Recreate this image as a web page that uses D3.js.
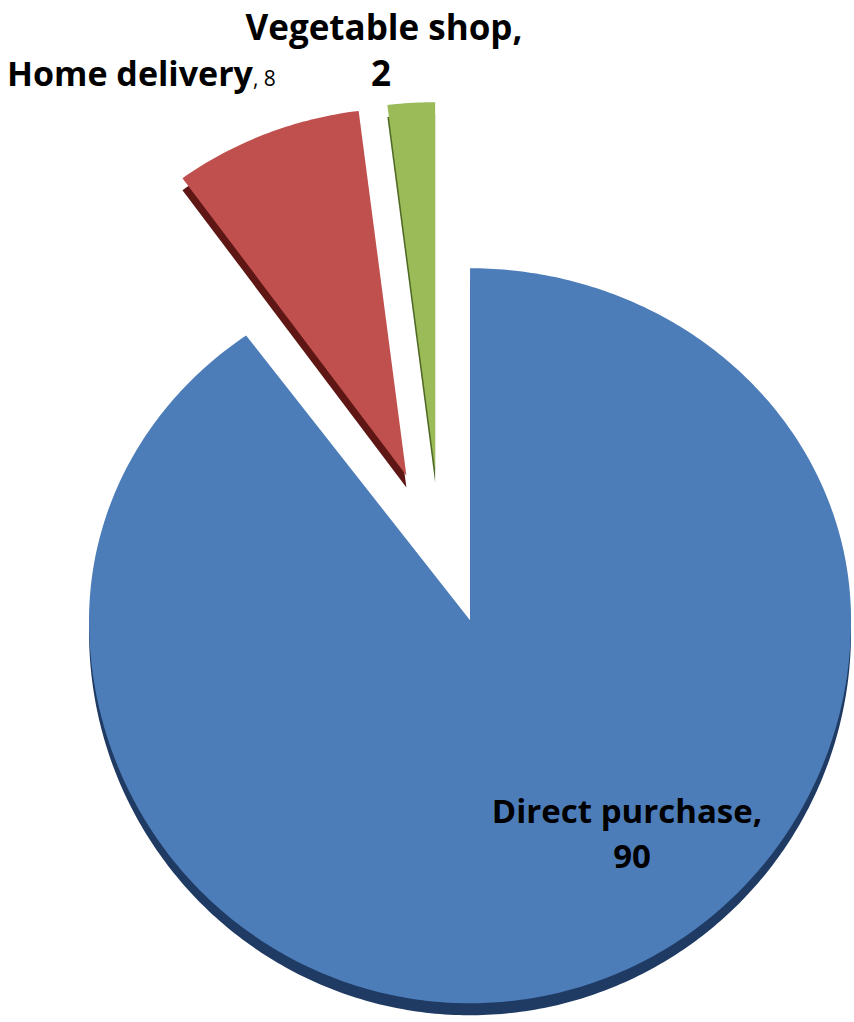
<!DOCTYPE html>
<html>
<head>
<meta charset="utf-8">
<script src="https://cdn.jsdelivr.net/npm/d3@7"></script>
<style>
  body { margin: 0; background: #fff; }
  svg { display: block; }
  text { font-family: "Open Sans", "Noto Sans", sans-serif; fill: #000; }
</style>
</head>
<body>
<svg class="canvas"></svg>
<script>
// data
const categories = ["Direct purchase", "Home delivery", "Vegetable shop"];
const values = [90, 8, 2];
const topColors = ["#4d7db9", "#c0504d", "#9bbb59"];
const sideColors = ["#1f3b63", "#5e1714", "#4f6a25"];

const width = 854;
const height = 1022;

const svg = d3.select(".canvas")
	.attr("width", width)
	.attr("height", height);

// pie geometry (tilted, exploded)
const center = [441, 547];
const explodeX = 94, explodeY = 77;
const rx = 381;
const ryBottom = 383;
const depth = 12;

// slices further up look a bit taller in the original 3d render
const ryTopScale = d3.scaleLinear().domain([620, 470]).range([352, 368]);

const pie = d3.pie().sort(null).value(d => d);
const arcs = pie(values);

const line = d3.line();

function outline(a) {
	const mid = (a.startAngle + a.endAngle) / 2;
	const ax = center[0] + explodeX * Math.sin(mid);
	const ay = center[1] - explodeY * Math.cos(mid);
	const ryTop = ryTopScale(ay);
	const pts = [[ax, ay]];
	const n = Math.max(4, Math.ceil((a.endAngle - a.startAngle) * 80));
	for (let i = 0; i <= n; i++) {
		const t = a.startAngle + (a.endAngle - a.startAngle) * i / n;
		const c = Math.cos(t);
		const ry = c > 0 ? ryTop : ryBottom;
		pts.push([ax + rx * Math.sin(t), ay - ry * c]);
	}
	return line(pts) + "Z";
}

const slices = svg.append("g")
	.selectAll("g")
	.data(arcs)
	.join("g");

slices.append("path")
	.attr("transform", `translate(0,${depth})`)
	.attr("d", outline)
	.attr("fill", (d, i) => sideColors[i]);

slices.append("path")
	.attr("d", outline)
	.attr("fill", (d, i) => topColors[i]);

// labels
const labels = svg.append("g");

labels.append("text")
	.attr("x", 384).attr("y", 40)
	.attr("text-anchor", "middle")
	.style("font-size", "35px").style("font-weight", "bold")
	.text(categories[2] + ",");

labels.append("text")
	.attr("x", 381).attr("y", 86)
	.attr("text-anchor", "middle")
	.style("font-size", "35px").style("font-weight", "bold")
	.text(values[2]);

const hd = labels.append("text")
	.attr("x", 7).attr("y", 86)
	.style("font-size", "34px");
hd.append("tspan").style("font-weight", "bold").text(categories[1]);
hd.append("tspan").style("font-size", "21px").text(", " + values[1]);

labels.append("text")
	.attr("x", 627).attr("y", 823)
	.attr("text-anchor", "middle")
	.style("font-size", "33px").style("font-weight", "bold")
	.text(categories[0] + ",");

labels.append("text")
	.attr("x", 632).attr("y", 868)
	.attr("text-anchor", "middle")
	.style("font-size", "33px").style("font-weight", "bold")
	.text(values[0]);
</script>
</body>
</html>
